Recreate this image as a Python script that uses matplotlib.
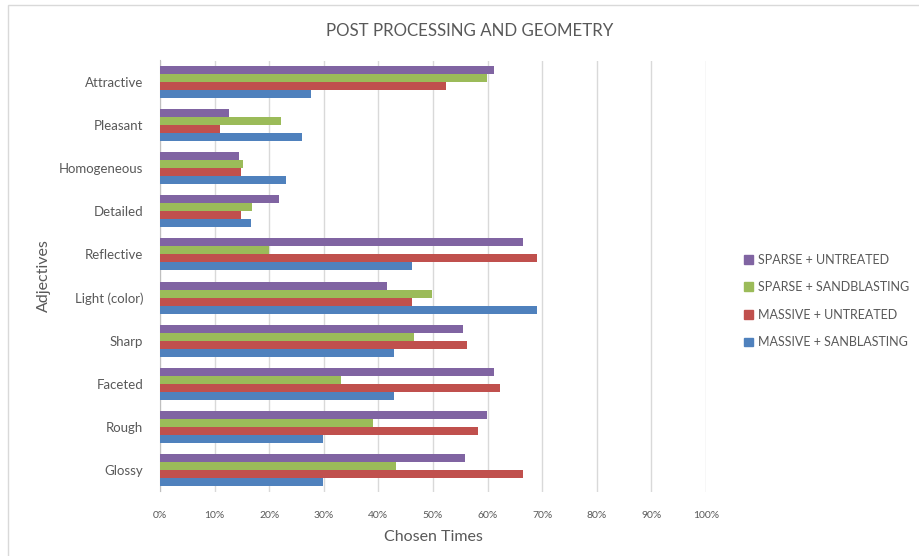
import matplotlib.pyplot as plt
from matplotlib.patches import Rectangle, Patch
import numpy as np

plt.rcParams['font.family'] = ['Lato', 'DejaVu Sans']

# Kategorien von oben nach unten
adjectives = ['Attractive', 'Pleasant', 'Homogeneous', 'Detailed', 'Reflective',
              'Light (color)', 'Sharp', 'Faceted', 'Rough', 'Glossy']

# Werte in Prozent
sparse_untreated = [61.1, 12.6, 14.5, 21.8, 66.5, 41.6, 55.5, 61.1, 59.9, 55.9]
sparse_sandblasting = [59.9, 22.2, 15.2, 16.8, 19.9, 49.9, 46.6, 33.2, 39.1, 43.3]
massive_untreated = [52.4, 11.0, 14.9, 14.9, 69.0, 46.1, 56.2, 62.3, 58.3, 66.5]
massive_sanblasting = [27.6, 26.0, 23.1, 16.6, 46.1, 69.0, 42.8, 42.8, 29.9, 29.9]

series = [
    ('SPARSE + UNTREATED', sparse_untreated, '#8064A2'),
    ('SPARSE + SANDBLASTING', sparse_sandblasting, '#9BBB59'),
    ('MASSIVE + UNTREATED', massive_untreated, '#C0504D'),
    ('MASSIVE + SANBLASTING', massive_sanblasting, '#4F81BD'),
]

grey = '#595959'
fig = plt.figure(figsize=(9.2, 5.56), dpi=100)
ax = fig.add_axes([160/920, 1-491.5/556, 546/920, 431/556])

y = np.arange(len(adjectives))
h = 0.186
for i, (name, vals, col) in enumerate(series):
    ax.barh(y + (i - 1.5) * h, np.array(vals) / 100, height=h, color=col,
            label=name, zorder=3)

ax.set_ylim(len(adjectives) - 0.5, -0.5)
ax.set_xlim(0, 1)
ax.set_xticks(np.arange(0, 1.01, 0.1))
ax.set_xticklabels([f'{int(round(t*100))}%' for t in np.arange(0, 1.01, 0.1)])
ax.set_yticks(y)
ax.set_yticklabels(adjectives)
ax.tick_params(axis='x', length=0, labelsize=7.5, colors=grey, pad=14)
ax.tick_params(axis='y', length=0, labelsize=9.5, colors=grey, pad=12)
ax.grid(True, axis='x', color='#D9D9D9', linewidth=1, zorder=0)
for s in ['top', 'right', 'bottom']:
    ax.spines[s].set_visible(False)
ax.spines['left'].set_color('#BFBFBF')

ax.set_xlabel('Chosen Times', fontsize=11.5, color=grey, labelpad=7)
ax.set_ylabel('Adjectives', fontsize=11.5, color=grey, labelpad=6)
fig.text(470/920, 1-31/556, 'POST PROCESSING AND GEOMETRY', fontsize=12.2,
         color=grey, ha='center', va='center')

handles = [Patch(color=c, label=n) for n, v, c in series]
fig.legend(handles=handles, loc='center left', bbox_to_anchor=(733/920, 1-301/556),
           frameon=False, fontsize=9, labelcolor=grey, handlelength=0.7,
           handleheight=0.7, handletextpad=0.4, labelspacing=1.25)

fig.patches.append(Rectangle((8/920, -0.1), 1.2, 0.1 + (556-5)/556,
                             transform=fig.transFigure, fill=False,
                             edgecolor='#D9D9D9', linewidth=1))

fig.savefig('out.png', dpi=100)
